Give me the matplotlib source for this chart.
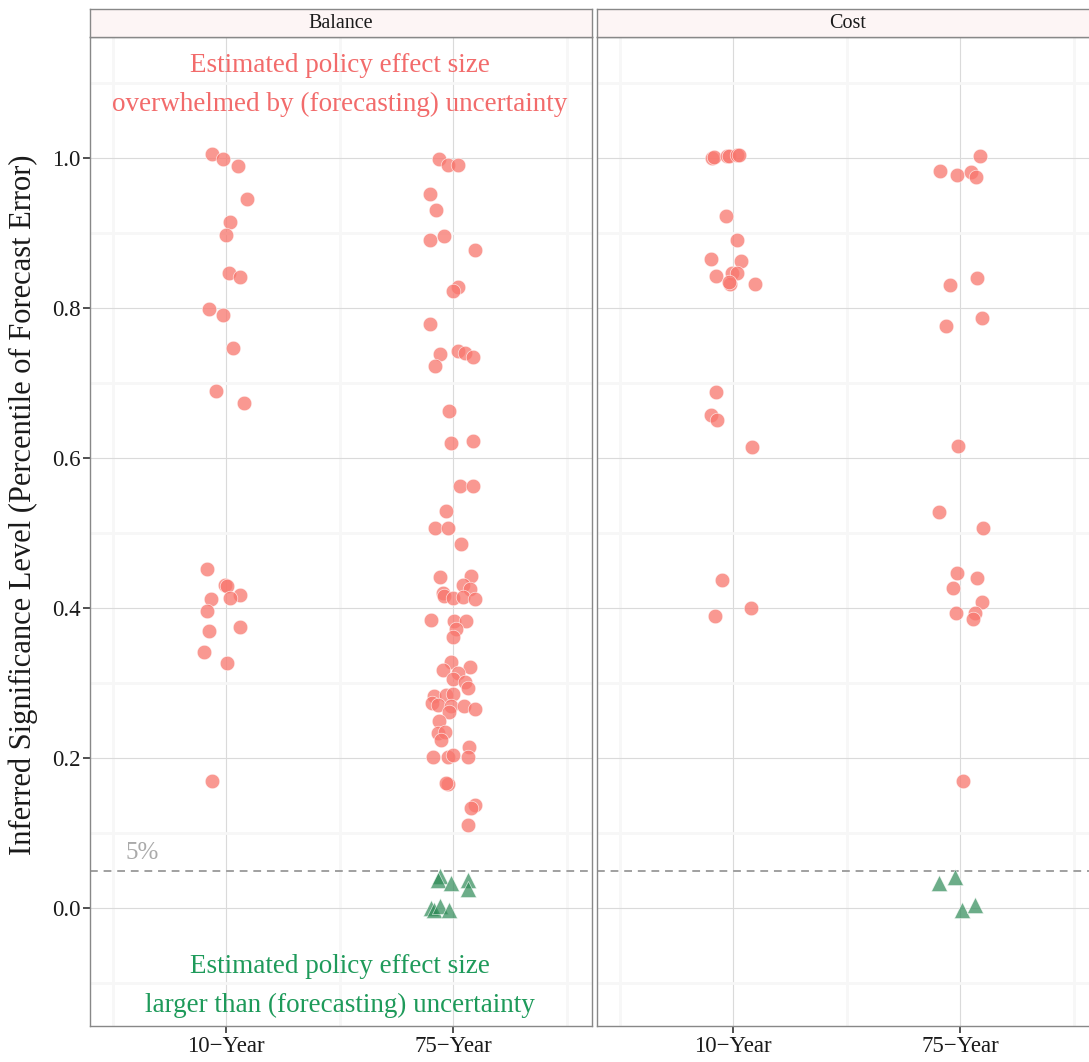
import matplotlib
matplotlib.use("Agg")
import matplotlib.pyplot as plt
from matplotlib.ticker import FixedLocator

plt.rcParams["font.family"] = ["Liberation Serif", "DejaVu Serif"]

# ---- data -------------------------------------------------------------
facets = ["Balance", "Cost"]
horizons = ["10\u2212Year", "75\u2212Year"]

# Balance, 10-year horizon (all above 5%)
bal10_sig = [1.005, 0.999, 0.989, 0.945, 0.915, 0.897, 0.847, 0.841, 0.799, 0.791,
             0.747, 0.689, 0.673, 0.452, 0.431, 0.430, 0.418, 0.412, 0.413, 0.396,
             0.370, 0.375, 0.341, 0.327, 0.170]
bal10_jit = [-0.062, -0.013, 0.053, 0.093, 0.018, 0.0, 0.013, 0.062, -0.075, -0.013,
             0.031, -0.044, 0.079, -0.084, -0.004, 0.004, 0.062, -0.066, 0.018, -0.084,
             -0.075, 0.062, -0.097, 0.004, -0.062]

# Balance, 75-year horizon, above 5%
bal75_sig = [0.998, 0.991, 0.991, 0.952, 0.930, 0.891, 0.896, 0.877, 0.828, 0.822,
             0.778, 0.743, 0.740, 0.734, 0.739, 0.722,
             0.663, 0.620, 0.622, 0.563, 0.563, 0.529, 0.507, 0.507, 0.485,
             0.441, 0.443, 0.431, 0.425, 0.420, 0.416, 0.413, 0.415, 0.412,
             0.384, 0.383, 0.383, 0.372, 0.362,
             0.328, 0.318, 0.322, 0.313, 0.306, 0.301, 0.294,
             0.283, 0.284, 0.285, 0.273, 0.271, 0.270, 0.270, 0.265, 0.262,
             0.249, 0.234, 0.235, 0.224, 0.215,
             0.201, 0.201, 0.204, 0.202,
             0.165, 0.167, 0.138, 0.134, 0.111]
bal75_jit = [-0.062, -0.022, 0.022, -0.101, -0.075, -0.101, -0.040, 0.097, 0.018, 0.0,
             -0.101, 0.018, 0.053, 0.084, -0.057, -0.079,
             -0.018, -0.009, 0.084, 0.031, 0.084, -0.031, -0.079, -0.022, 0.035,
             -0.057, 0.079, 0.040, 0.075, -0.048, -0.040, -0.004, 0.040, 0.093,
             -0.097, 0.004, 0.057, 0.013, -0.004,
             -0.009, -0.048, 0.075, 0.022, 0.0, 0.053, 0.062,
             -0.084, -0.031, -0.004, -0.093, -0.070, -0.009, 0.048, 0.097, -0.018,
             -0.062, -0.066, -0.035, -0.053, 0.070,
             -0.088, -0.026, 0.0, 0.062,
             -0.026, -0.031, 0.093, 0.079, 0.066]

# Balance, 75-year horizon, below 5%
bal75_low_sig = [0.043, 0.038, 0.033, 0.037, 0.025, 0.0, -0.003, 0.003, -0.003]
bal75_low_jit = [-0.057, -0.066, -0.009, 0.066, 0.066, -0.097, -0.084, -0.057, -0.018]

# Cost, 10-year horizon
cost10_sig = [1.000, 1.001, 1.003, 1.002, 1.004, 1.004, 0.923, 0.891, 0.865, 0.863,
              0.843, 0.847, 0.846, 0.832, 0.835, 0.832, 0.688, 0.657, 0.651, 0.614,
              0.437, 0.400, 0.390]
cost10_jit = [-0.093, -0.084, -0.026, -0.018, 0.018, 0.026, -0.031, 0.018, -0.097, 0.035,
              -0.075, -0.004, 0.018, -0.013, -0.018, 0.097, -0.075, -0.097, -0.070, 0.084,
              -0.048, 0.079, -0.079]

# Cost, 75-year horizon, above 5%
cost75_sig = [1.003, 0.982, 0.977, 0.981, 0.975, 0.840, 0.831, 0.787, 0.776, 0.616,
              0.528, 0.506, 0.447, 0.440, 0.427, 0.408, 0.393, 0.394, 0.385, 0.170]
cost75_jit = [0.088, -0.088, -0.013, 0.048, 0.070, 0.075, -0.048, 0.093, -0.062, -0.009,
              -0.093, 0.101, -0.013, 0.075, -0.031, 0.093, -0.018, 0.062, 0.057, 0.013]

# Cost, 75-year horizon, below 5%
cost75_low_sig = [0.034, 0.042, -0.003, 0.004]
cost75_low_jit = [-0.093, -0.026, 0.009, 0.066]

threshold = 0.05
y_ticks = [0.0, 0.2, 0.4, 0.6, 0.8, 1.0]

# ---- figure -----------------------------------------------------------
W, H = 1089, 1062
fig = plt.figure(figsize=(W / 100, H / 100), dpi=100)
fig.patch.set_facecolor("white")

red = "#F8766D"
green = "#2E8B57"
txt_red = "#F26B6B"
txt_green = "#1E9A5A"

panel_w = 502 / W
panel_b = (H - 1026) / H
panel_h = (1026 - 37) / H
strip_b = (H - 37) / H
strip_h = 28 / H
lefts = [90 / W, 597 / W]

groups = {
    "Balance": [(1, bal10_sig, bal10_jit, "hi"),
                (2, bal75_sig, bal75_jit, "hi"),
                (2, bal75_low_sig, bal75_low_jit, "lo")],
    "Cost": [(1, cost10_sig, cost10_jit, "hi"),
             (2, cost75_sig, cost75_jit, "hi"),
             (2, cost75_low_sig, cost75_low_jit, "lo")],
}

for i, facet in enumerate(facets):
    ax = fig.add_axes([lefts[i], panel_b, panel_w, panel_h])
    ax.set_xlim(0.4, 2.61)
    ax.set_ylim(-0.157, 1.161)
    ax.set_facecolor("white")

    # grid lines
    ax.yaxis.set_major_locator(FixedLocator(y_ticks))
    ax.yaxis.set_minor_locator(FixedLocator([-0.1, 0.1, 0.3, 0.5, 0.7, 0.9, 1.1]))
    ax.xaxis.set_major_locator(FixedLocator([1, 2]))
    ax.xaxis.set_minor_locator(FixedLocator([0.5, 1.5, 2.5]))
    ax.grid(which="minor", color="#F7F7F7", linewidth=2.0, zorder=0)
    ax.grid(which="major", color="#DADADA", linewidth=0.8, zorder=0)
    ax.set_axisbelow(True)

    ax.set_xticks([1, 2])
    ax.set_xticklabels(horizons)
    ax.tick_params(axis="both", which="minor", length=0)
    ax.tick_params(axis="both", which="major", length=5, width=1.2, color="#333333",
                   labelsize=16.5, labelcolor="#1A1A1A", pad=2)
    if i == 0:
        ax.set_yticklabels([f"{v:.1f}" for v in y_ticks])
        ax.set_ylabel("Inferred Significance Level (Percentile of Forecast Error)",
                      fontsize=22, color="#1A1A1A")
        ax.yaxis.set_label_coords(-0.104, 0.527)
    else:
        ax.tick_params(axis="y", which="major", length=0, labelleft=False)

    for sp in ax.spines.values():
        sp.set_color("#888888")
        sp.set_linewidth(1.0)

    ax.axhline(threshold, color="#A0A0A0", linestyle=(0, (4, 3)), linewidth=1.4, zorder=1)

    for xpos, sig, jit, kind in groups[facet]:
        xs = [xpos + j for j in jit]
        if kind == "hi":
            ax.scatter(xs, sig, s=110, color=red, alpha=0.75, edgecolors="white",
                       linewidths=0.5, zorder=3)
        else:
            ax.scatter(xs, sig, s=135, marker="^", color=green, alpha=0.7,
                       edgecolors="white", linewidths=0.5, zorder=3)

    if i == 0:
        ax.text(1.5, 1.123, "Estimated policy effect size", ha="center", va="center",
                fontsize=19.5, color=txt_red)
        ax.text(1.5, 1.071, "overwhelmed by (forecasting) uncertainty", ha="center",
                va="center", fontsize=19.5, color=txt_red)
        ax.text(1.5, -0.078, "Estimated policy effect size", ha="center", va="center",
                fontsize=19.5, color=txt_green)
        ax.text(1.5, -0.130, "larger than (forecasting) uncertainty", ha="center",
                va="center", fontsize=19.5, color=txt_green)
        ax.text(0.63, 0.073, "5%", ha="center", va="center", fontsize=18,
                color="#AAAAAA")

    # facet strip
    sax = fig.add_axes([lefts[i], strip_b, panel_w, strip_h])
    sax.set_facecolor("#FDF5F5")
    sax.set_xticks([])
    sax.set_yticks([])
    for sp in sax.spines.values():
        sp.set_color("#888888")
        sp.set_linewidth(1.0)
    sax.text(0.5, 0.47, facet, transform=sax.transAxes, ha="center", va="center",
             fontsize=14.5, color="#1A1A1A")

fig.savefig("out.png", dpi=100)
